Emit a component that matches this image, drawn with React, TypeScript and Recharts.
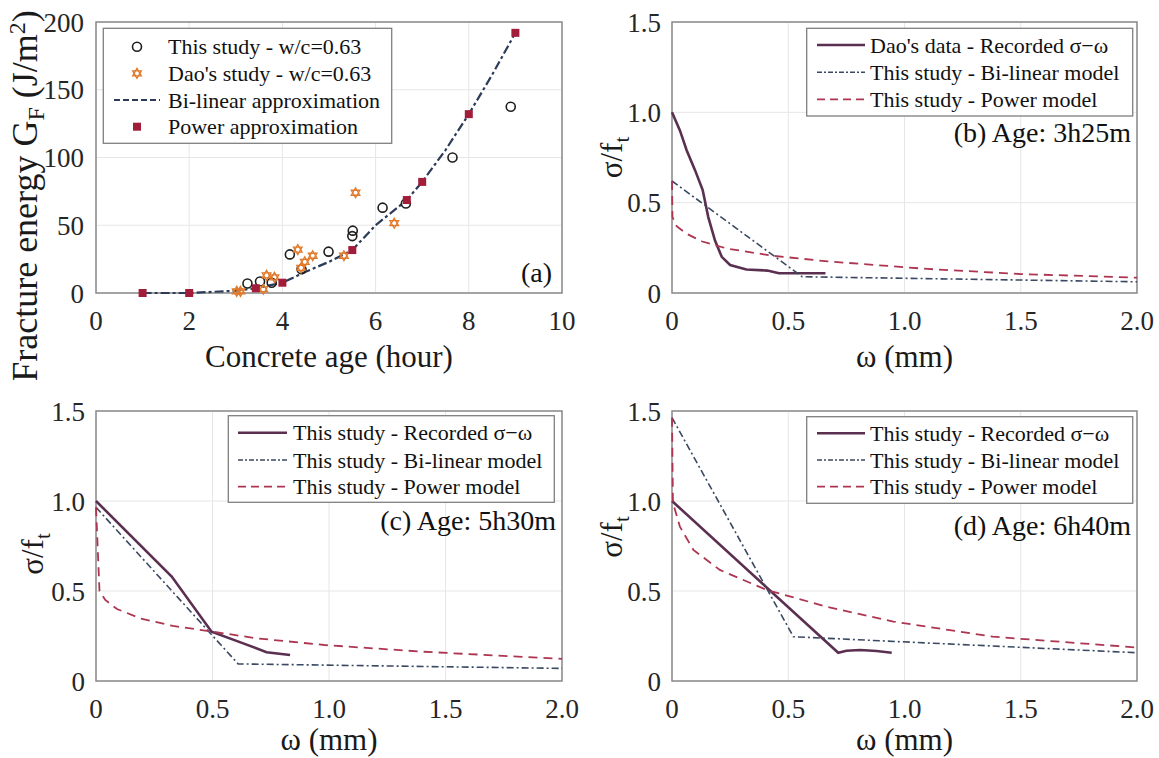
import React from 'react';
import {
  ComposedChart,
  Line,
  Scatter,
  XAxis,
  YAxis,
  CartesianGrid,
  ReferenceArea,
} from 'recharts';

const FONT = '"Liberation Serif", "Times New Roman", serif';

// ---- (a) fracture energy vs concrete age ----
const ageTicks = [0, 2, 4, 6, 8, 10];
const gfTicks = [0, 50, 100, 150, 200];

const thisStudyAge = [3.25, 3.52, 3.77, 4.16, 4.41, 4.99, 5.5, 5.51, 6.15, 6.65, 7.65, 8.9];
const thisStudyGF = [7, 8.5, 7.6, 28.5, 17.5, 30.5, 42, 46, 63, 66, 100, 137.5];

const daoAge = [3.02, 3.1, 3.59, 3.66, 3.83, 4.33, 4.4, 4.48, 4.65, 5.32, 5.57, 6.4];
const daoGF = [1.2, 1.2, 2.8, 13, 11.5, 32, 18.5, 23, 27.5, 27.5, 74, 51.5];

const bilinAge = [1, 2, 3, 3.43, 4, 4.5, 5, 5.5, 6, 6.67, 7, 7.5, 8, 8.5, 9];
const bilinGF = [0, 0, 1.7, 3.5, 7.6, 15.7, 23, 31.7, 50, 68.6, 82, 105.5, 132, 161, 192];

const powerAge = [1, 2, 3.43, 4, 5.5, 6.67, 7, 8, 9];
const powerGF = [0, 0, 3.5, 7.6, 31.7, 68.6, 82, 132, 192];

// ---- (b)-(d) softening curves ----
const omegaTicks = [0, 0.5, 1, 1.5, 2];
const ratioTicks = [0, 0.5, 1, 1.5];

// (b) 3h25m
const bRecW = [0, 0.034, 0.063, 0.099, 0.132, 0.156, 0.185, 0.214, 0.25, 0.32, 0.41, 0.46, 0.55, 0.66];
const bRecS = [1.0, 0.9, 0.79, 0.68, 0.57, 0.42, 0.29, 0.2, 0.155, 0.13, 0.124, 0.109, 0.109, 0.109];
const bBiW = [0, 0.56, 2.0];
const bBiS = [0.62, 0.09, 0.062];
const bPowW = [0, 0.002, 0.02, 0.06, 0.13, 0.24, 0.44, 0.67, 1.1, 1.5, 2.0];
const bPowS = [0.62, 0.42, 0.37, 0.33, 0.285, 0.245, 0.205, 0.175, 0.133, 0.105, 0.085];

// (c) 5h30m
const cRecW = [0, 0.325, 0.496, 0.632, 0.732, 0.833];
const cRecS = [1.0, 0.58, 0.274, 0.209, 0.16, 0.144];
const cBiW = [0, 0.61, 2.0];
const cBiS = [0.965, 0.095, 0.07];
const cPowW = [0, 0.015, 0.04, 0.09, 0.19, 0.33, 0.5, 0.69, 0.98, 1.4, 2.0];
const cPowS = [0.965, 0.5, 0.45, 0.4, 0.348, 0.306, 0.274, 0.237, 0.2, 0.163, 0.123];

// (d) 6h40m
const dRecW = [0, 0.715, 0.75, 0.81, 0.88, 0.945];
const dRecS = [1.0, 0.157, 0.168, 0.172, 0.167, 0.157];
const dBiW = [0, 0.522, 2.0];
const dBiS = [1.463, 0.246, 0.157];
const dPowW = [0, 0.004, 0.034, 0.092, 0.206, 0.407, 0.665, 0.952, 1.38, 2.0];
const dPowS = [1.463, 0.99, 0.857, 0.728, 0.617, 0.506, 0.413, 0.33, 0.246, 0.186];

const pts = (xs: number[], ys: number[]) => xs.map((x, i) => ({ x, y: ys[i] }));

const C_REC = '#5a2f50';
const C_BI = '#3a4962';
const C_POW = '#ad3550';
const C_NAVY = '#2b3b58';
const C_SQ = '#a11d3a';
const C_ORANGE = '#e07a2c';

const axisTick = { fontSize: 27, fill: '#262626', fontFamily: FONT };
const fmt1 = (v: number) => (v === 0 ? '0' : v.toFixed(1));

const hexPoints = (cx: number, cy: number, r: number, a0: number) =>
  [0, 1, 2]
    .map((k) => {
      const a = ((a0 + k * 120) * Math.PI) / 180;
      return `${cx + r * Math.cos(a)},${cy + r * Math.sin(a)}`;
    })
    .join(' ');

const OpenCircle = (p: any) => (
  <circle cx={p.cx} cy={p.cy} r={4.5} fill="none" stroke="#1e1e1e" strokeWidth={1.6} />
);
const RedSquare = (p: any) => (
  <rect x={p.cx - 4} y={p.cy - 4} width={8} height={8} fill={C_SQ} />
);
const Hexagram = (p: any) => (
  <g fill="none" stroke={C_ORANGE} strokeWidth={1.3}>
    <polygon points={hexPoints(p.cx, p.cy, 5, -90)} />
    <polygon points={hexPoints(p.cx, p.cy, 5, 90)} />
  </g>
);

const xTitle = (text: string, offset: number) => (props: any) => {
  const { x, y, width } = props.viewBox;
  return (
    <text x={x + width / 2} y={y + offset} textAnchor="middle" fontSize={31} fill="#1a1a1a" fontFamily={FONT}>
      {text}
    </text>
  );
};

const yTitle = (dx: number, dy: number, size: number, body: React.ReactNode) => (props: any) => {
  const { x, y, height } = props.viewBox;
  const cx = x + dx;
  const cy = y + height / 2 + dy;
  return (
    <text
      x={cx}
      y={cy}
      transform={`rotate(-90 ${cx} ${cy})`}
      textAnchor="middle"
      fontSize={size}
      fill="#1a1a1a"
      fontFamily={FONT}
    >
      {body}
    </text>
  );
};

const sigmaLabel = (
  <>
    σ/f
    <tspan fontSize={21} dy={7}>t</tspan>
  </>
);

const PanelA = () => (
  <div style={{ position: 'absolute', left: 0, top: 0 }}>
    <ComposedChart width={580} height={380} margin={{ top: 22, right: 18, bottom: 47, left: 0 }}>
      <CartesianGrid stroke="#e6e6e6" />
      <XAxis
        type="number"
        dataKey="x"
        domain={[0, 10]}
        ticks={ageTicks}
        interval={0}
        tick={axisTick}
        tickLine={false}
        axisLine={false}
        tickSize={0}
        tickMargin={18}
        height={40}
        label={xTitle('Concrete age (hour)', 74)}
      />
      <YAxis
        type="number"
        dataKey="y"
        domain={[0, 200]}
        ticks={gfTicks}
        interval={0}
        tick={axisTick}
        tickLine={false}
        axisLine={false}
        tickSize={0}
        tickMargin={12}
        width={96}
        label={yTitle(
          37,
          38.5,
          36,
          <>
            Fracture energy G
            <tspan fontSize={24} dy={7}>F</tspan>
            <tspan dy={-7}> (J/m</tspan>
            <tspan fontSize={24} dy={-12}>2</tspan>
            <tspan dy={12}>)</tspan>
          </>
        )}
      />
      <ReferenceArea x1={0} x2={10} y1={0} y2={200} fill="none" stroke="#8a8a8a" strokeWidth={1.5} />
      <Scatter data={pts(thisStudyAge, thisStudyGF)} dataKey="y" shape={OpenCircle} isAnimationActive={false} />
      <Scatter data={pts(daoAge, daoGF)} dataKey="y" shape={Hexagram} isAnimationActive={false} />
      <Line
        data={pts(bilinAge, bilinGF)}
        dataKey="y"
        type="linear"
        stroke={C_NAVY}
        strokeWidth={2.2}
        strokeDasharray="9 3 3 3"
        dot={false}
        isAnimationActive={false}
      />
      <Scatter data={pts(powerAge, powerGF)} dataKey="y" shape={RedSquare} isAnimationActive={false} />
    </ComposedChart>
  </div>
);

type SigmaProps = {
  left: number;
  top: number;
  width: number;
  height: number;
  margin: { top: number; right: number; bottom: number; left: number };
  yWidth: number;
  labelDx: number;
  labelDy: number;
  titleOffset: number;
  recorded: { x: number; y: number }[];
  bilinear: { x: number; y: number }[];
  power: { x: number; y: number }[];
};

const SigmaPanel = ({
  left, top, width, height, margin, yWidth, labelDx, labelDy, titleOffset, recorded, bilinear, power,
}: SigmaProps) => (
  <div style={{ position: 'absolute', left, top }}>
    <ComposedChart width={width} height={height} margin={margin}>
      <CartesianGrid stroke="#e6e6e6" />
      <XAxis
        type="number"
        dataKey="x"
        domain={[0, 2]}
        ticks={omegaTicks}
        interval={0}
        tickFormatter={fmt1}
        tick={axisTick}
        tickLine={false}
        axisLine={false}
        tickSize={0}
        tickMargin={18}
        height={40}
        label={xTitle('ω (mm)', titleOffset)}
      />
      <YAxis
        type="number"
        dataKey="y"
        domain={[0, 1.5]}
        ticks={ratioTicks}
        interval={0}
        tickFormatter={fmt1}
        tick={axisTick}
        tickLine={false}
        axisLine={false}
        tickSize={0}
        tickMargin={11}
        width={yWidth}
        label={yTitle(labelDx, labelDy, 31, sigmaLabel)}
      />
      <ReferenceArea x1={0} x2={2} y1={0} y2={1.5} fill="none" stroke="#8a8a8a" strokeWidth={1.5} />
      <Line data={recorded} dataKey="y" type="linear" stroke={C_REC} strokeWidth={2.6} dot={false} isAnimationActive={false} />
      <Line
        data={bilinear}
        dataKey="y"
        type="linear"
        stroke={C_BI}
        strokeWidth={1.6}
        strokeDasharray="7 3 2 3"
        dot={false}
        isAnimationActive={false}
      />
      <Line
        data={power}
        dataKey="y"
        type="linear"
        stroke={C_POW}
        strokeWidth={1.8}
        strokeDasharray="9 6"
        dot={false}
        isAnimationActive={false}
      />
    </ComposedChart>
  </div>
);

type Entry = { label: string; kind: 'circle' | 'hex' | 'square' | 'navy' | 'solid' | 'dashdot' | 'dash' };

const LegendBox = ({
  x, y, w, h, rows, s0, s1, tx, entries,
}: { x: number; y: number; w: number; h: number; rows: number[]; s0: number; s1: number; tx: number; entries: Entry[] }) => {
  const mid = (s0 + s1) / 2;
  return (
    <g>
      <rect x={x} y={y} width={w} height={h} fill="#fff" stroke="#7f7f7f" strokeWidth={1.3} />
      {entries.map((e, i) => {
        const cy = rows[i];
        let sample: React.ReactNode = null;
        if (e.kind === 'circle') sample = <OpenCircle cx={mid} cy={cy} />;
        if (e.kind === 'hex') sample = <Hexagram cx={mid} cy={cy} />;
        if (e.kind === 'square') sample = <RedSquare cx={mid} cy={cy} />;
        if (e.kind === 'navy')
          sample = <line x1={s0} x2={s1} y1={cy} y2={cy} stroke={C_NAVY} strokeWidth={2.2} strokeDasharray="6 3" />;
        if (e.kind === 'solid')
          sample = <line x1={s0} x2={s1} y1={cy} y2={cy} stroke={C_REC} strokeWidth={2.6} />;
        if (e.kind === 'dashdot')
          sample = <line x1={s0} x2={s1} y1={cy} y2={cy} stroke={C_BI} strokeWidth={1.6} strokeDasharray="5 2 2 2" />;
        if (e.kind === 'dash')
          sample = <line x1={s0} x2={s1} y1={cy} y2={cy} stroke={C_POW} strokeWidth={1.8} strokeDasharray="8 5" />;
        return (
          <g key={i}>
            {sample}
            <text x={tx} y={cy + 7.5} fontSize={22} fill="#111">
              {e.label}
            </text>
          </g>
        );
      })}
    </g>
  );
};

const studyEntries = (first: string): Entry[] => [
  { label: first, kind: 'solid' },
  { label: 'This study - Bi-linear model', kind: 'dashdot' },
  { label: 'This study - Power model', kind: 'dash' },
];

const App = () => (
  <div style={{ position: 'absolute', left: 0, top: 0, width: 1159, height: 758, background: '#fff', overflow: 'hidden' }}>
    <PanelA />
    <SigmaPanel
      left={580}
      top={0}
      width={579}
      height={380}
      margin={{ top: 22, right: 22, bottom: 47, left: 0 }}
      yWidth={92}
      labelDx={42}
      labelDy={0}
      titleOffset={74}
      recorded={pts(bRecW, bRecS)}
      bilinear={pts(bBiW, bBiS)}
      power={pts(bPowW, bPowS)}
    />
    <SigmaPanel
      left={0}
      top={380}
      width={580}
      height={378}
      margin={{ top: 31, right: 18, bottom: 37, left: 0 }}
      yWidth={96}
      labelDx={43}
      labelDy={8}
      titleOffset={69}
      recorded={pts(cRecW, cRecS)}
      bilinear={pts(cBiW, cBiS)}
      power={pts(cPowW, cPowS)}
    />
    <SigmaPanel
      left={580}
      top={380}
      width={579}
      height={378}
      margin={{ top: 31, right: 22, bottom: 37, left: 0 }}
      yWidth={92}
      labelDx={42}
      labelDy={-9}
      titleOffset={69}
      recorded={pts(dRecW, dRecS)}
      bilinear={pts(dBiW, dBiS)}
      power={pts(dPowW, dPowS)}
    />
    <svg
      width={1159}
      height={758}
      style={{ position: 'absolute', left: 0, top: 0, pointerEvents: 'none' }}
      fontFamily={FONT}
    >
      <LegendBox
        x={103.3}
        y={28.3}
        w={288.4}
        h={115}
        rows={[46.7, 73.3, 100, 126.7]}
        s0={114}
        s1={160}
        tx={168}
        entries={[
          { label: 'This study - w/c=0.63', kind: 'circle' },
          { label: "Dao's study - w/c=0.63", kind: 'hex' },
          { label: 'Bi-linear approximation', kind: 'navy' },
          { label: 'Power approximation', kind: 'square' },
        ]}
      />
      <LegendBox
        x={806.7}
        y={28.3}
        w={326}
        h={87.7}
        rows={[45, 72.3, 99.3]}
        s0={817}
        s1={865}
        tx={870}
        entries={studyEntries("Dao's data - Recorded σ−ω")}
      />
      <LegendBox
        x={228.3}
        y={415.7}
        w={326}
        h={86.6}
        rows={[432.7, 460, 486.7]}
        s0={238}
        s1={287}
        tx={293}
        entries={studyEntries('This study - Recorded σ−ω')}
      />
      <LegendBox
        x={806.7}
        y={416.7}
        w={326}
        h={86.6}
        rows={[433.3, 460, 486.7]}
        s0={817}
        s1={865}
        tx={870}
        entries={studyEntries('This study - Recorded σ−ω')}
      />
      <text x={521} y={282} fontSize={28} fill="#111">(a)</text>
      <text x={1131} y={142} fontSize={28} fill="#111" textAnchor="end">(b) Age: 3h25m</text>
      <text x={556} y={530} fontSize={28} fill="#111" textAnchor="end">(c) Age: 5h30m</text>
      <text x={1131} y={535} fontSize={28} fill="#111" textAnchor="end">(d) Age: 6h40m</text>
    </svg>
  </div>
);

export default App;
